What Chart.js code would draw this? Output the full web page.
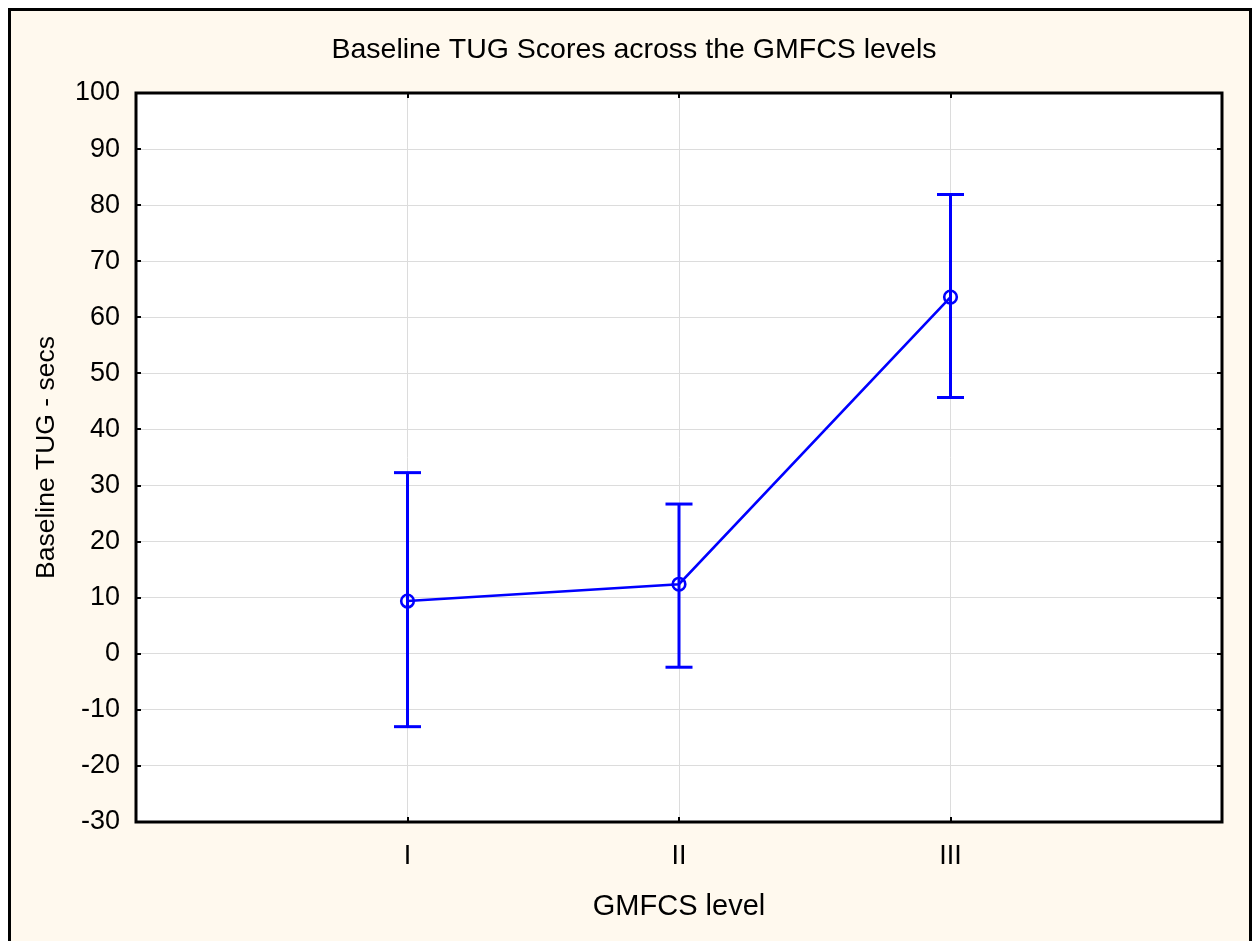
<!DOCTYPE html>
<html><head><meta charset="utf-8">
<script src="https://cdn.jsdelivr.net/npm/chart.js@4/dist/chart.umd.min.js"></script>
<style>
html,body{margin:0;padding:0;background:#fff;overflow:hidden;width:1258px;height:941px;}
#frame{position:absolute;left:8px;top:8px;width:1238px;height:1000px;border:3px solid #000;background:#FFF9EE;}
#c{position:absolute;left:0;top:0;}
</style></head><body>
<div id="frame"></div>
<canvas id="c" width="1258" height="941"></canvas>
<script>
const categories = ['I', 'II', 'III'];
const means = [9.4, 12.4, 63.6];
const upper = [32.3, 26.7, 81.9];
const lower = [-13.0, -2.4, 45.7];
const yMin = -30, yMax = 100, yStep = 10;
const titleText = 'Baseline TUG Scores across the GMFCS levels';
const xTitle = 'GMFCS level';
const yTitle = 'Baseline TUG - secs';

const BLUE = '#0000FF';
Chart.defaults.font.family = "'Liberation Sans', Arial, sans-serif";
Chart.defaults.color = '#000';

const xPos = categories.map((c, i) => i + 1);

const meanData = means.map((m, i) => ({x: xPos[i], y: m}));
const capData = [];
categories.forEach((c, i) => { capData.push({x: xPos[i], y: lower[i]}); capData.push({x: xPos[i], y: upper[i]}); });

const errDatasets = categories.map((c, i) => ({
  data: [{x: xPos[i], y: lower[i]}, {x: xPos[i], y: upper[i]}],
  showLine: true, borderColor: BLUE, borderWidth: 3, pointRadius: 0, pointHoverRadius: 0
}));

const framePlugin = {
  id: 'frame',
  beforeDraw(chart) {
    const {ctx, chartArea: a} = chart;
    ctx.save();
    ctx.fillStyle = '#fff';
    ctx.fillRect(a.left, a.top, a.right - a.left, a.bottom - a.top);
    ctx.restore();
  },
  afterDraw(chart) {
    const {ctx, chartArea: a, scales} = chart;
    ctx.save();
    ctx.strokeStyle = '#000';
    ctx.lineWidth = 2;
    const tl = 5;
    ctx.beginPath();
    scales.y.ticks.forEach(t => {
      const py = Math.round(scales.y.getPixelForValue(t.value));
      ctx.moveTo(a.left, py); ctx.lineTo(a.left + tl, py);
      ctx.moveTo(a.right, py); ctx.lineTo(a.right - tl, py);
    });
    xPos.forEach(v => {
      const px = Math.round(scales.x.getPixelForValue(v));
      ctx.moveTo(px, a.bottom); ctx.lineTo(px, a.bottom - tl);
      ctx.moveTo(px, a.top); ctx.lineTo(px, a.top + tl);
    });
    ctx.stroke();
    ctx.lineWidth = 3;
    ctx.strokeRect(a.left, a.top, a.right - a.left, a.bottom - a.top);
    ctx.restore();
  }
};

new Chart(document.getElementById('c'), {
  type: 'scatter',
  data: {
    datasets: [
      {
        data: meanData, showLine: true, borderColor: BLUE, borderWidth: 2.6,
        pointRadius: 6.3, pointBorderWidth: 2.6, pointBorderColor: BLUE,
        pointBackgroundColor: 'rgba(0,0,0,0)', pointHoverRadius: 6.3
      },
      {
        data: capData, showLine: false, pointStyle: 'line', pointRadius: 13.5,
        pointBorderWidth: 3, pointBorderColor: BLUE, pointHoverRadius: 13.5
      },
      ...errDatasets
    ]
  },
  options: {
    responsive: false,
    devicePixelRatio: 1,
    animation: false,
    layout: {padding: {left: 46, right: 36, top: 0, bottom: 0}},
    plugins: {
      legend: {display: false},
      tooltip: {enabled: false},
      title: {
        display: true, text: titleText, color: '#000',
        font: {size: 28.5, weight: 'normal'},
        padding: {top: 33, bottom: 25.8}
      }
    },
    scales: {
      x: {
        type: 'linear', min: 0, max: categories.length + 1,
        afterFit(s) { s.height = 119; },
        ticks: {
          stepSize: 1, padding: 18, color: '#000', font: {size: 27},
          autoSkip: false, maxRotation: 0,
          callback: v => (Number.isInteger(v) && v >= 1 && v <= categories.length) ? categories[v - 1] : ''
        },
        grid: {color: '#DCDCDC', lineWidth: 1, drawTicks: false},
        border: {display: false},
        title: {display: true, text: xTitle, color: '#000', font: {size: 29}, padding: {top: 0, bottom: 16.6}}
      },
      y: {
        type: 'linear', min: yMin, max: yMax,
        afterFit(s) { s.width = 90; },
        ticks: {stepSize: yStep, padding: 16, color: '#000', font: {size: 27}},
        grid: {color: '#DCDCDC', lineWidth: 1, drawTicks: false},
        border: {display: false},
        title: {display: true, text: yTitle, color: '#000', font: {size: 26.5}, padding: {top: -14.9, bottom: 0}}
      }
    }
  },
  plugins: [framePlugin]
});
</script>
</body></html>
